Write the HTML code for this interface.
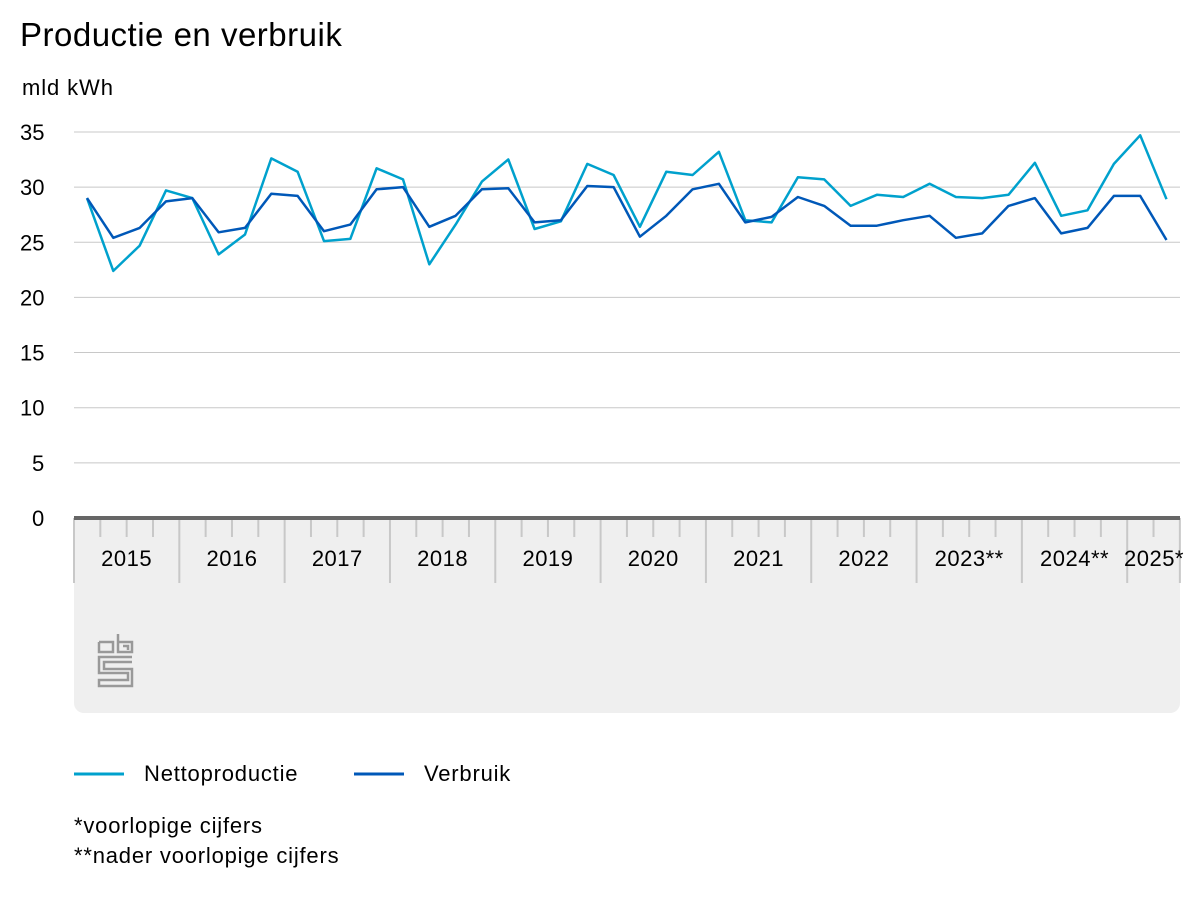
<!DOCTYPE html>
<html><head><meta charset="utf-8"><style>
body{margin:0;background:#fff;font-family:"Liberation Sans",Arial,sans-serif;}
</style></head><body>
<svg id="s" width="1200" height="900" xmlns="http://www.w3.org/2000/svg" font-family="Liberation Sans, Arial, sans-serif">
<text x="20" y="46" font-size="33" letter-spacing="0.5" fill="#000">Productie en verbruik</text>
<text x="22" y="95" font-size="22" letter-spacing="0.9" fill="#000">mld kWh</text>
<path d="M74 518 H1180 V703 a10 10 0 0 1 -10 10 H84 a10 10 0 0 1 -10 -10 Z" fill="#efefef"/>
<g id="grid"></g>
<g id="ticks"></g>
<line x1="74" y1="518" x2="1180" y2="518" stroke="#666" stroke-width="4"/>
<g id="ylab" font-size="22" fill="#000"></g>
<g id="xlab" font-size="22" letter-spacing="0.5" fill="#000" text-anchor="middle"></g>
<polyline id="p1" fill="none" stroke="#00a1cd" stroke-width="2.5" stroke-linejoin="round"/>
<polyline id="p2" fill="none" stroke="#0058b8" stroke-width="2.5" stroke-linejoin="round"/>
<g fill="none" stroke="#999" stroke-width="2.5">
<path d="M99 642 H113 V652 H99 V642 M118 634 V652 H132 V642 H118 M123 646 H128 V650"/>
<path d="M132 657 H99 V673 H128 V680 H99 V686 H132 V669 H104 V662 H132"/>
</g>
<g font-size="22" letter-spacing="0.8">
<line x1="74" y1="774" x2="124" y2="774" stroke="#00a1cd" stroke-width="3"/>
<text x="144" y="781">Nettoproductie</text>
<line x1="354" y1="774" x2="404" y2="774" stroke="#0058b8" stroke-width="3"/>
<text x="424" y="781">Verbruik</text>
<text x="74" y="833">*voorlopige cijfers</text>
<text x="74" y="863">**nader voorlopige cijfers</text>
</g>
</svg>
<script>
var NS="http://www.w3.org/2000/svg";
function el(p,t,a,txt){var e=document.createElementNS(NS,t);for(var k in a)e.setAttribute(k,a[k]);if(txt)e.textContent=txt;document.getElementById(p).appendChild(e);}
for(var v=5;v<=35;v+=5){var y=518-v*11.03;el("grid","line",{x1:74,x2:1180,y1:y,y2:y,stroke:"#c8c8c8","stroke-width":1});}
for(var v=0;v<=35;v+=5){var y=518-v*11.03;el("ylab","text",{x:v<10?32:20,y:y+8},String(v));}
var q=26.33;
for(var i=0;i<=42;i++){var x=74+q*i;if(i%4==0||i==42)el("ticks","line",{x1:x,x2:x,y1:518,y2:583,stroke:"#c8c8c8","stroke-width":2});else el("ticks","line",{x1:x,x2:x,y1:518,y2:537,stroke:"#c8c8c8","stroke-width":2});}
var yrs=["2015","2016","2017","2018","2019","2020","2021","2022","2023**","2024**"];
for(var i=0;i<10;i++)el("xlab","text",{x:74+q*4*i+q*2,y:566},yrs[i]);
el("xlab","text",{x:1154,y:566},"2025*");
var a=[29.0,22.4,24.7,29.7,29.0,23.9,25.7,32.6,31.4,25.1,25.3,31.7,30.7,23.0,26.6,30.5,32.5,26.2,26.9,32.1,31.1,26.4,31.4,31.1,33.2,27.0,26.8,30.9,30.7,28.3,29.3,29.1,30.3,29.1,29.0,29.3,32.2,27.4,27.9,32.1,34.7,28.9];
var b=[29.0,25.4,26.3,28.7,29.0,25.9,26.3,29.4,29.2,26.0,26.6,29.8,30.0,26.4,27.4,29.8,29.9,26.8,27.0,30.1,30.0,25.5,27.4,29.8,30.3,26.8,27.3,29.1,28.3,26.5,26.5,27.0,27.4,25.4,25.8,28.3,29.0,25.8,26.3,29.2,29.2,25.2];
function pts(d){return d.map(function(v,i){return (87+q*i).toFixed(1)+","+(518-v*11.03).toFixed(1)}).join(" ");}
document.getElementById("p1").setAttribute("points",pts(a));
document.getElementById("p2").setAttribute("points",pts(b));
</script>
</body></html>
